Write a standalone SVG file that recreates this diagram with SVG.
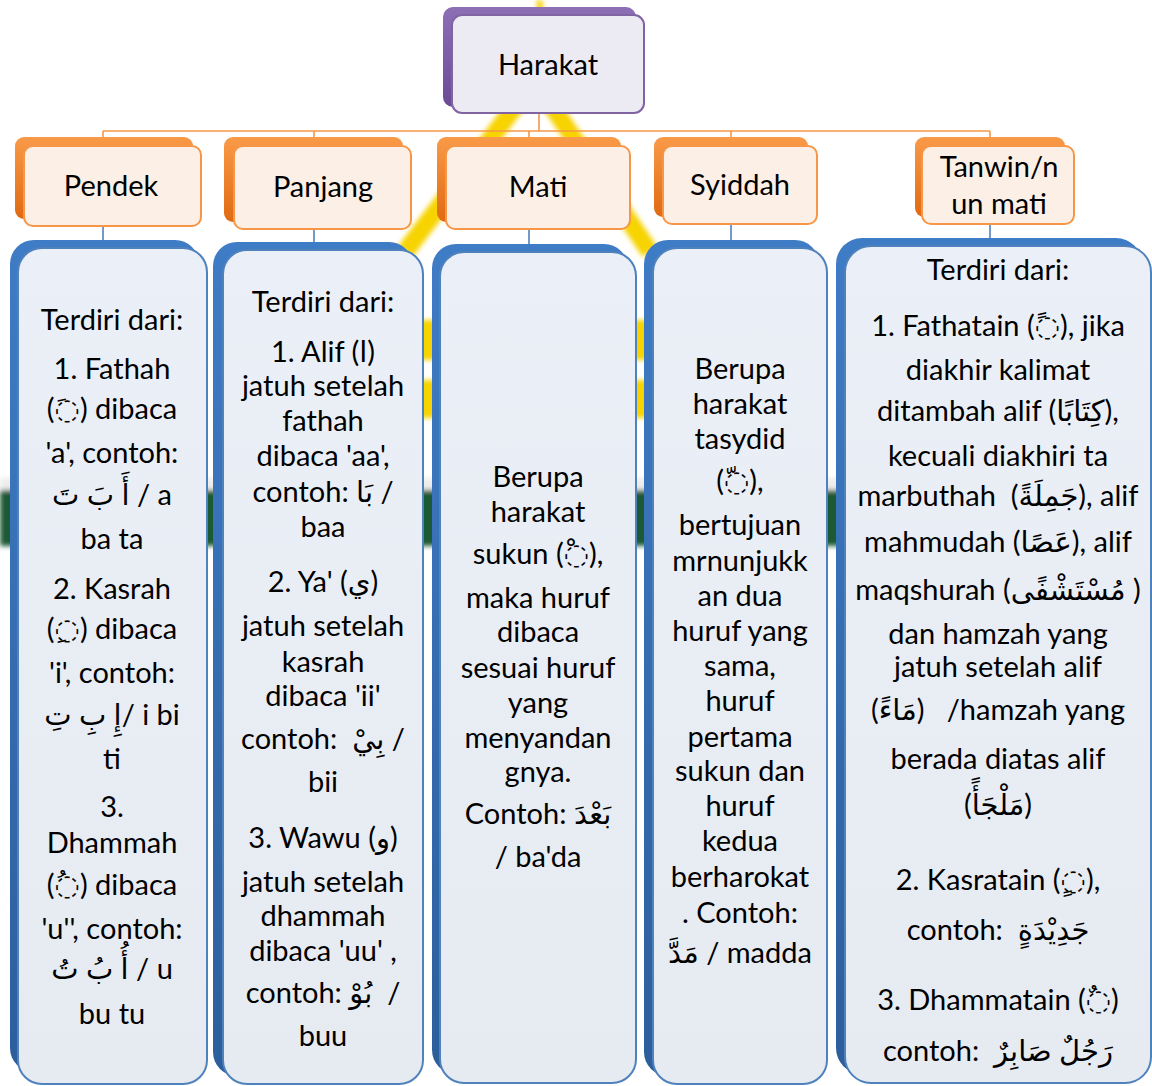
<svg xmlns="http://www.w3.org/2000/svg" width="1152" height="1086" viewBox="0 0 1152 1086">
<defs>
<linearGradient id="gPurple" x1="0" y1="0" x2="0" y2="1"><stop offset="0" stop-color="#8D6FB5"/><stop offset="1" stop-color="#6A4C93"/></linearGradient>
<linearGradient id="gOrange" x1="0" y1="0" x2="0" y2="1"><stop offset="0" stop-color="#F99A48"/><stop offset="1" stop-color="#E06A12"/></linearGradient>
<linearGradient id="gBlue" x1="0" y1="0" x2="0" y2="1"><stop offset="0" stop-color="#3F7CC6"/><stop offset="1" stop-color="#2C5E9C"/></linearGradient>
<linearGradient id="gBlueFront" x1="0" y1="0" x2="0" y2="1"><stop offset="0" stop-color="#EBF0F8"/><stop offset="1" stop-color="#E6EBF2"/></linearGradient>
<filter id="blur" x="-20%" y="-20%" width="140%" height="140%"><feGaussianBlur stdDeviation="2.5"/></filter>
<style>
.t{font-family:Lato,"DejaVu Sans",sans-serif;font-size:29px;text-anchor:middle;fill:#000}
.h{font-family:Lato,"DejaVu Sans",sans-serif;font-size:29px;text-anchor:middle;fill:#000}
.pb{fill:url(#gPurple)}
.pf{fill:#ECEAF3;stroke:#8064A2;stroke-width:2}
.ob{fill:url(#gOrange)}
.of{fill:#FCF0E6;stroke:#F79646;stroke-width:2}
.bb{fill:url(#gBlue)}
.bf{fill:url(#gBlueFront);stroke:#4F81BD;stroke-width:2}
.co{stroke:#F79646;stroke-width:1.6;fill:none}
.cb{stroke:#4F81BD;stroke-width:1.6;fill:none}
</style>
</defs>
<rect width="1152" height="1086" fill="#FFFFFF"/>
<g id="watermark" filter="url(#blur)">
<path d="M520,100 L405,252 M548,100 L650,252" stroke="#F7D300" stroke-width="18" fill="none"/>
<path d="M539,0 L541,12" stroke="#F7D300" stroke-width="6" fill="none"/>
<rect x="408" y="320" width="40" height="40" fill="#F7D300"/>
<rect x="408" y="380" width="40" height="38" fill="#F7D300"/>
<rect x="625" y="320" width="35" height="40" fill="#F7D300"/>
<rect x="625" y="380" width="35" height="38" fill="#F7D300"/>
<rect x="0" y="478" width="1152" height="12" fill="#EDEDED"/>
<rect x="0" y="490" width="1152" height="56" fill="#1F5A36"/>
</g>
<g id="connectors">
<path class="co" d="M539,113 V131 M103,131 H990 M103,131 V145 M314,131 V145 M529,131 V145 M731,131 V145 M990,131 V145"/>
<path class="cb" d="M103,226 V248 M314,229 V250 M529,229 V252 M731,224 V248 M990,224 V246"/>
</g>
<g id="harakat">
<rect class="pb" x="443" y="7" width="193" height="100" rx="10"/>
<rect class="pf" x="452" y="15" width="192" height="98" rx="10"/>
<text class="h" x="548" y="75">Harakat</text>
</g>
<g id="pendek">
<rect class="ob" x="15" y="137" width="178" height="82" rx="9"/>
<rect class="of" x="24" y="146" width="177" height="80" rx="9"/>
<text class="h" x="111" y="196">Pendek</text>
</g>
<g id="panjang">
<rect class="ob" x="224" y="137" width="179" height="85" rx="9"/>
<rect class="of" x="234" y="146" width="177" height="83" rx="9"/>
<text class="h" x="323" y="197">Panjang</text>
</g>
<g id="mati">
<rect class="ob" x="437" y="137" width="184" height="85" rx="9"/>
<rect class="of" x="446" y="146" width="184" height="83" rx="9"/>
<text class="h" x="538" y="197">Mati</text>
</g>
<g id="syiddah">
<rect class="ob" x="654" y="137" width="154" height="80" rx="9"/>
<rect class="of" x="663" y="146" width="154" height="78" rx="9"/>
<text class="h" x="740" y="195">Syiddah</text>
</g>
<g id="tanwin">
<rect class="ob" x="915" y="137" width="150" height="80" rx="9"/>
<rect class="of" x="922" y="146" width="152" height="78" rx="9"/>
<text class="h" x="999" y="177">Tanwin/n</text>
<text class="h" x="999" y="214">un mati</text>
</g>
<g id="col-pendek">
<rect class="bb" x="10" y="240" width="189" height="832" rx="24"/>
<rect class="bf" x="18" y="248" width="189" height="836" rx="24"/>
<text class="t" x="112" y="330">Terdiri dari:</text>
<text class="t" x="112" y="379">1. Fathah</text>
<text class="t" x="112" y="419">(◌َ) dibaca</text>
<text class="t" x="112" y="463">'a', contoh:</text>
<text class="t" x="112" y="505">أَ بَ تَ / a</text>
<text class="t" x="112" y="549">ba ta</text>
<text class="t" x="112" y="599">2. Kasrah</text>
<text class="t" x="112" y="639">(◌ِ) dibaca</text>
<text class="t" x="112" y="683">'i', contoh:</text>
<text class="t" x="112" y="725">إِ بِ تِ/ i bi</text>
<text class="t" x="112" y="769">ti</text>
<text class="t" x="112" y="817">3.</text>
<text class="t" x="112" y="853">Dhammah</text>
<text class="t" x="112" y="895">(◌ُ) dibaca</text>
<text class="t" x="112" y="939">'u'', contoh:</text>
<text class="t" x="112" y="979">أُ بُ تُ / u</text>
<text class="t" x="112" y="1024">bu tu</text>
</g>
<g id="col-panjang">
<rect class="bb" x="213" y="242" width="200" height="834" rx="24"/>
<rect class="bf" x="223" y="250" width="200" height="834" rx="24"/>
<text class="t" x="323" y="312">Terdiri dari:</text>
<text class="t" x="323" y="362">1. Alif (ا)</text>
<text class="t" x="323" y="396">jatuh setelah</text>
<text class="t" x="323" y="431">fathah</text>
<text class="t" x="323" y="466">dibaca 'aa',</text>
<text class="t" x="323" y="502">contoh: بَا /</text>
<text class="t" x="323" y="537">baa</text>
<text class="t" x="323" y="592">2. Ya' (ي)</text>
<text class="t" x="323" y="636">jatuh setelah</text>
<text class="t" x="323" y="672">kasrah</text>
<text class="t" x="323" y="706">dibaca 'ii'</text>
<text class="t" x="323" y="749">contoh:&#160;&#160;بِيْ /</text>
<text class="t" x="323" y="792">bii</text>
<text class="t" x="323" y="848">3. Wawu (و)</text>
<text class="t" x="323" y="892">jatuh setelah</text>
<text class="t" x="323" y="926">dhammah</text>
<text class="t" x="323" y="961">dibaca 'uu' ,</text>
<text class="t" x="323" y="1003">contoh: بُوْ&#160;&#160;/</text>
<text class="t" x="323" y="1046">buu</text>
</g>
<g id="col-mati">
<rect class="bb" x="432" y="244" width="196" height="830" rx="24"/>
<rect class="bf" x="440" y="252" width="196" height="831" rx="24"/>
<text class="t" x="538" y="487">Berupa</text>
<text class="t" x="538" y="522">harakat</text>
<text class="t" x="538" y="564">sukun (◌ْ),</text>
<text class="t" x="538" y="608">maka huruf</text>
<text class="t" x="538" y="642">dibaca</text>
<text class="t" x="538" y="678">sesuai huruf</text>
<text class="t" x="538" y="713">yang</text>
<text class="t" x="538" y="748">menyandan</text>
<text class="t" x="538" y="782">gnya.</text>
<text class="t" x="538" y="824">Contoh: بَعْدَ</text>
<text class="t" x="538" y="867">/ ba'da</text>
</g>
<g id="col-syiddah">
<rect class="bb" x="644" y="240" width="175" height="836" rx="24"/>
<rect class="bf" x="653" y="248" width="174" height="836" rx="24"/>
<text class="t" x="740" y="379">Berupa</text>
<text class="t" x="740" y="414">harakat</text>
<text class="t" x="740" y="449">tasydid</text>
<text class="t" x="740" y="491">(◌ّ),</text>
<text class="t" x="740" y="535">bertujuan</text>
<text class="t" x="740" y="571">mrnunjukk</text>
<text class="t" x="740" y="606">an dua</text>
<text class="t" x="740" y="641">huruf yang</text>
<text class="t" x="740" y="676">sama,</text>
<text class="t" x="740" y="711">huruf</text>
<text class="t" x="740" y="747">pertama</text>
<text class="t" x="740" y="781">sukun dan</text>
<text class="t" x="740" y="816">huruf</text>
<text class="t" x="740" y="851">kedua</text>
<text class="t" x="740" y="887">berharokat</text>
<text class="t" x="740" y="923">. Contoh:</text>
<text class="t" x="740" y="963">مَدَّ / madda</text>
</g>
<g id="col-tanwin">
<rect class="bb" x="836" y="238" width="306" height="836" rx="26"/>
<rect class="bf" x="845" y="246" width="306" height="837" rx="26"/>
<text class="t" x="998" y="280">Terdiri dari:</text>
<text class="t" x="998" y="336">1. Fathatain (◌ً), jika</text>
<text class="t" x="998" y="380">diakhir kalimat</text>
<text class="t" x="998" y="421">ditambah alif (كِتَابًا),</text>
<text class="t" x="998" y="466">kecuali diakhiri ta</text>
<text class="t" x="998" y="506">marbuthah&#160;&#160;(جَمِلَةً), alif</text>
<text class="t" x="998" y="552">mahmudah (عَصًا), alif</text>
<text class="t" x="998" y="600">maqshurah (مُسْتَشْفًى )</text>
<text class="t" x="998" y="644">dan hamzah yang</text>
<text class="t" x="998" y="677">jatuh setelah alif</text>
<text class="t" x="998" y="720">(مَاءً)&#160;&#160;&#160;/hamzah yang</text>
<text class="t" x="998" y="769">berada diatas alif</text>
<text class="t" x="998" y="815">(مَلْجَأً)</text>
<text class="t" x="998" y="890">2. Kasratain (◌ٍ),</text>
<text class="t" x="998" y="940">contoh:&#160;&#160;جَدِيْدَةٍ</text>
<text class="t" x="998" y="1010">3. Dhammatain (◌ٌ)</text>
<text class="t" x="998" y="1061">contoh:&#160;&#160;رَجُلٌ صَابِرٌ</text>
</g>
</svg>
